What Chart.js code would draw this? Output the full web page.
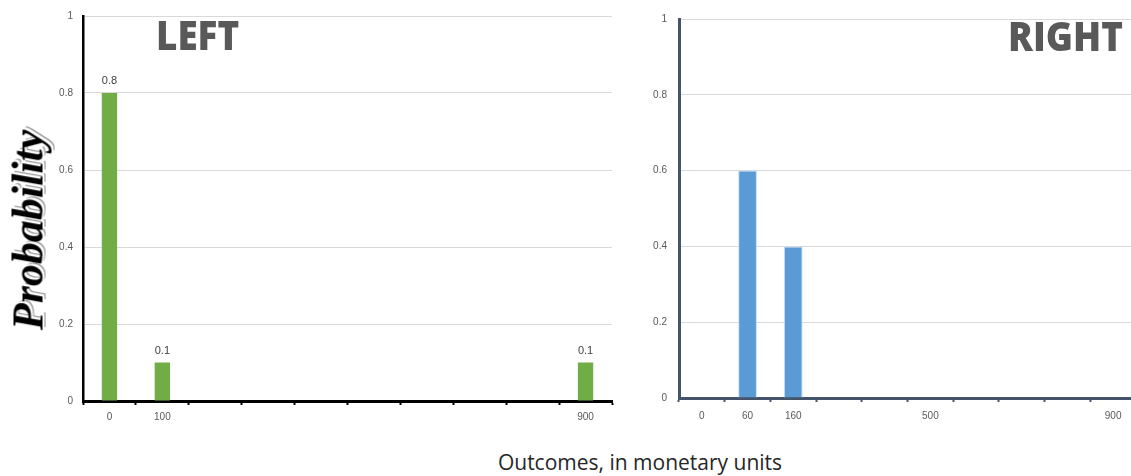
<!DOCTYPE html>
<html>
<head>
<meta charset="utf-8">
<script src="https://cdn.jsdelivr.net/npm/chart.js@4/dist/chart.umd.min.js"></script>
<style>
  html, body { margin: 0; padding: 0; background: #fff; overflow: hidden; width: 1131px; height: 476px; }
  canvas { position: absolute; top: 0; }
  #leftChart { left: 0; }
  #rightChart { left: 620px; }
  .panel-title {
    position: absolute; font-family: "Open Sans", "DejaVu Sans", sans-serif;
    font-weight: 800; font-size: 40px; color: #595959; line-height: 1;
    transform: scaleX(0.92); transform-origin: 0 0;
  }
  #ylab {
    position: absolute; left: 28px; top: 230px; transform: translate(-50%, -50%) rotate(-90deg);
    font-family: "Liberation Serif", "DejaVu Serif", serif; font-weight: bold; font-style: italic;
    font-size: 44px; color: #000; white-space: nowrap;
    text-shadow: 1px 1px 0 #fff, 2px 2px 0 #fff, 3px 3px 0 #8c8c8c;
  }
  #xlab {
    position: absolute; left: 640px; top: 462px; transform: translate(-50%, -50%);
    font-family: "Open Sans", "Liberation Sans", sans-serif; font-size: 21px; color: #262626; white-space: nowrap;
  }
</style>
</head>
<body>
<canvas id="leftChart" width="620" height="430"></canvas>
<canvas id="rightChart" width="520" height="430"></canvas>
<div class="panel-title" style="left:156px; top:15px;">LEFT</div>
<div class="panel-title" style="left:1008px; top:16px;">RIGHT</div>
<div id="ylab">Probability</div>
<div id="xlab">Outcomes, in monetary units</div>
<script>
// Outcome categories (only some are labelled on the axis) and their probabilities
const leftLabels = ['0', '100', '', '', '', '', '', '', '', '900'];
const leftProb = [0.8, 0.1, 0, 0, 0, 0, 0, 0, 0, 0.1];

const rightLabels = ['0', '60', '160', '', '', '500', '', '', '', '900'];
const rightProb = [0, 0.6, 0.4, 0, 0, 0, 0, 0, 0, 0];

const yMin = 0, yMax = 1, yStep = 0.2;

// Writes each non-zero bar value above the bar
const valueLabels = {
  id: 'valueLabels',
  afterDatasetsDraw(chart, args, opts) {
    if (!opts.show) return;
    const ctx = chart.ctx;
    const ds = chart.data.datasets[0];
    const meta = chart.getDatasetMeta(0);
    ctx.save();
    ctx.font = '11px "Liberation Sans", sans-serif';
    ctx.fillStyle = '#404040';
    ctx.textAlign = 'center';
    ctx.textBaseline = 'alphabetic';
    meta.data.forEach((bar, i) => {
      const v = ds.data[i];
      if (v > 0) ctx.fillText(String(v), bar.x, bar.y - 9);
    });
    ctx.restore();
  }
};

function makeChart(id, labels, values, cfg) {
  return new Chart(document.getElementById(id), {
    type: 'bar',
    data: {
      labels: labels,
      datasets: [{
        data: values,
        backgroundColor: cfg.barColor,
        borderColor: cfg.barEdge,
        borderWidth: cfg.barEdge ? 1 : 0,
        barPercentage: cfg.barPct,
        categoryPercentage: 1
      }]
    },
    options: {
      responsive: false,
      animation: false,
      devicePixelRatio: 1,
      layout: { padding: { top: cfg.top, right: cfg.right, left: 0, bottom: 0 } },
      plugins: {
        legend: { display: false },
        tooltip: { enabled: false },
        valueLabels: { show: cfg.showValues }
      },
      scales: {
        x: {
          afterFit(scale) { scale.height = cfg.xHeight; },
          grid: {
            offset: true, drawOnChartArea: false, drawTicks: true,
            tickLength: 4, tickWidth: 2, tickColor: cfg.axisColor
          },
          border: { display: true, color: cfg.axisColor, width: 3 },
          ticks: {
            autoSkip: false, maxRotation: 0, padding: cfg.xPad,
            color: '#595959', font: { size: 10, family: '"Liberation Sans", sans-serif' }
          }
        },
        y: {
          min: yMin, max: yMax,
          afterFit(scale) { scale.width = cfg.yWidth; },
          grid: { color: '#d9d9d9', lineWidth: 1, drawTicks: false },
          border: { display: true, color: cfg.axisColor, width: cfg.yAxisWidth },
          ticks: {
            stepSize: yStep, padding: cfg.yPad,
            callback: (v) => String(Math.round(v * 10) / 10),
            color: '#595959', font: { size: 10, family: '"Liberation Sans", sans-serif' }
          }
        }
      }
    },
    plugins: [valueLabels]
  });
}

makeChart('leftChart', leftLabels, leftProb, {
  barColor: '#70ad47', barEdge: null, barPct: 0.29,
  axisColor: '#000000', yAxisWidth: 2.5,
  top: 16, right: 8, xHeight: 29, yWidth: 83, yPad: 10, xPad: 6, showValues: true
});

makeChart('rightChart', rightLabels, rightProb, {
  barColor: '#5b9bd5', barEdge: '#c5dcf1', barPct: 0.41,
  axisColor: '#44546a', yAxisWidth: 3,
  top: 19, right: 4, xHeight: 32, yWidth: 59, yPad: 12, xPad: 8, showValues: false
});
</script>
</body>
</html>
